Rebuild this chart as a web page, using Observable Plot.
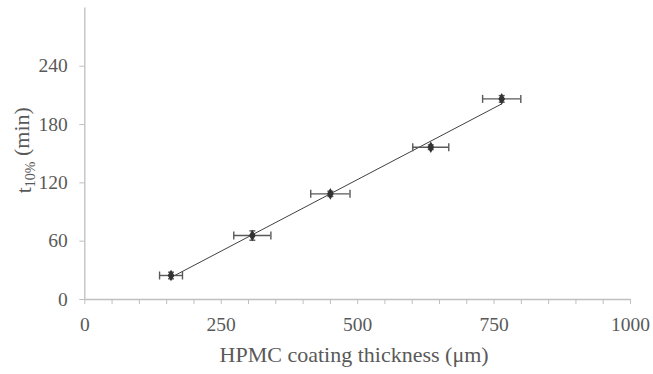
<!DOCTYPE html>
<html>
<head>
<meta charset="utf-8">
<script src="https://cdn.jsdelivr.net/npm/d3@7"></script>
<script src="https://cdn.jsdelivr.net/npm/@observablehq/plot@0.6"></script>
<style>
  html, body { margin: 0; padding: 0; background: #fff; }
  svg { font-family: "Liberation Serif", "Times New Roman", serif; }
</style>
</head>
<body>
<div id="chart"></div>
<script>
// Data
const thickness    = [158, 307, 450, 634, 764];   // µm
const thicknessErr = [21, 34, 36, 33, 35];        // µm
const t10          = [24.7, 65.8, 108.7, 156.7, 206.4]; // min
const t10Err       = [3.4, 4.8, 2.7, 2.4, 3.4];   // min

const xTicks = d3.range(0, 1001, 50);
const xLabeled = [0, 250, 500, 750, 1000];
const yTicks = [0, 60, 120, 180, 240];

const data = thickness.map((x, i) => ({x, xe: thicknessErr[i], y: t10[i], ye: t10Err[i]}));

const W = 653, H = 374;
const mL = 84.3, mR = 23, mT = 7.4, mB = 75;
const axisColor = "#bfbfbf";
const textColor = "#595959";
const barColor = "#595959";

const vbar = {draw(ctx, size) { const r = Math.sqrt(size / Math.PI); ctx.moveTo(0, -r); ctx.lineTo(0, r); }};
const hbar = {draw(ctx, size) { const r = Math.sqrt(size / Math.PI); ctx.moveTo(-r, 0); ctx.lineTo(r, 0); }};

const chart = Plot.plot({
  width: W, height: H,
  marginLeft: mL, marginRight: mR, marginTop: mT, marginBottom: mB,
  x: {domain: [0, 1000]},
  y: {domain: [0, 300]},
  style: {fontFamily: "Liberation Serif, Times New Roman, serif", background: "#fff"},
  marks: [
    Plot.axisX({ticks: xTicks, tickSize: 5, tickPadding: 13, stroke: axisColor, color: textColor,
      fill: textColor, fontSize: 19.5, tickFormat: d => xLabeled.includes(d) ? String(d) : "", label: null}),
    Plot.axisY({ticks: yTicks, tickSize: 5, tickPadding: 12, stroke: axisColor, fill: textColor,
      fontSize: 19.5, label: null}),
    Plot.ruleY([0], {stroke: axisColor, strokeWidth: 1.3}),
    Plot.ruleX([0], {y1: 0, y2: 300, stroke: axisColor, strokeWidth: 1.3}),
    Plot.linearRegressionY(data, {x: "x", y: "y", ci: 0, stroke: "#404040", strokeWidth: 1}),
    // horizontal error bars
    Plot.ruleY(data, {y: "y", x1: d => d.x - d.xe, x2: d => d.x + d.xe, stroke: barColor, strokeWidth: 1.4}),
    Plot.dot(data, {x: d => d.x - d.xe, y: "y", symbol: vbar, r: 4, stroke: barColor, strokeWidth: 1.4}),
    Plot.dot(data, {x: d => d.x + d.xe, y: "y", symbol: vbar, r: 4, stroke: barColor, strokeWidth: 1.4}),
    // vertical error bars
    Plot.ruleX(data, {x: "x", y1: d => d.y - d.ye, y2: d => d.y + d.ye, stroke: barColor, strokeWidth: 1.4}),
    Plot.dot(data, {x: "x", y: d => d.y - d.ye, symbol: hbar, r: 3, stroke: barColor, strokeWidth: 1.4}),
    Plot.dot(data, {x: "x", y: d => d.y + d.ye, symbol: hbar, r: 3, stroke: barColor, strokeWidth: 1.4}),
    // markers
    Plot.dot(data, {x: "x", y: "y", symbol: "diamond", r: 2.6, fill: "#333", stroke: "#333"})
  ]
});

const svg = d3.select(chart);
// x axis title
svg.append("text")
  .attr("x", (mL + W - mR) / 2 - 3)
  .attr("y", 362)
  .attr("text-anchor", "middle")
  .attr("fill", textColor)
  .style("font-size", "22px")
  .text("HPMC coating thickness (μm)");
// y axis title with subscript
const yt = svg.append("text")
  .attr("transform", `translate(31, ${(mT + H - mB) / 2 - 3}) rotate(-90)`)
  .attr("text-anchor", "middle")
  .attr("fill", textColor)
  .style("font-size", "22px");
yt.append("tspan").text("t");
yt.append("tspan").attr("dy", "0.25em").style("font-size", "14px").text("10%");
yt.append("tspan").attr("dy", "-0.25em").text(" (min)");

document.getElementById("chart").appendChild(chart);
</script>
</body>
</html>
